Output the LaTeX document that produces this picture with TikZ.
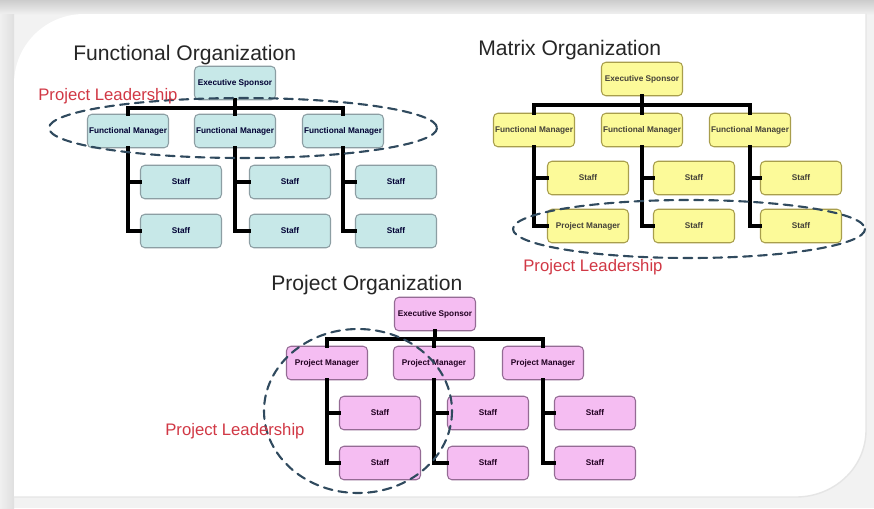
\documentclass[tikz,border=0pt]{standalone}
\usepackage{fontspec}
\setmainfont{Liberation Sans}
\usepackage{tikz}
\usetikzlibrary{arrows}
\definecolor{funcfill}{rgb}{0.78,0.91,0.91}
\definecolor{funcdraw}{rgb}{0.55,0.62,0.64}
\definecolor{matfill}{rgb}{0.99,0.98,0.6}
\definecolor{matdraw}{rgb}{0.66,0.62,0.3}
\definecolor{projfill}{rgb}{0.96,0.74,0.95}
\definecolor{projdraw}{rgb}{0.58,0.42,0.58}
\definecolor{leadred}{rgb}{0.82,0.22,0.27}
\definecolor{ringblue}{rgb}{0.19,0.29,0.37}
\definecolor{framegray}{rgb}{0.95,0.95,0.95}
\tikzset{
  orgbox/.style={rounded corners=2.5pt,line width=0.6pt,minimum width=1.62cm,minimum height=0.67cm,
    inner sep=0pt,font=\bfseries\fontsize{4.7}{5.5}\selectfont},
  funcbox/.style={orgbox,fill=funcfill,draw=funcdraw,text=black!80!blue},
  matbox/.style={orgbox,fill=matfill,draw=matdraw,text=black!85!yellow},
  projbox/.style={orgbox,fill=projfill,draw=projdraw,text=black!75!violet},
  orgline/.style={line width=2.3pt,line join=miter,line cap=rect},
  orgtitle/.style={anchor=west,inner sep=0pt,text=black!85,font=\fontsize{12}{14}\selectfont},
  leadtext/.style={anchor=west,inner sep=0pt,text=leadred,font=\fontsize{9.5}{11}\selectfont},
  leadring/.style={draw=ringblue,line width=1.2pt,dash pattern=on 5pt off 3.5pt}
}
\begin{document}
\begin{tikzpicture}[line cap=round,line join=round,>=triangle 45,x=0.02cm,y=-0.02cm]
\useasboundingbox (0,0) rectangle (874,508);
% frame
\fill[framegray] (0,0) rectangle (874,508);
\shade[top color=gray!40,bottom color=gray!12] (0,0) rectangle (874,14);
\shade[left color=gray!12,right color=gray!25] (0,14) rectangle (14,508);
\fill[white] (14,497) -- (14,84) to[out=90,in=180] (84,14) -- (866,14)
  -- (866,430) to[out=-90,in=0] (796,497) -- cycle;
\draw[gray!20,line width=0.8pt] (14,497) -- (796,497) to[out=0,in=-90] (866,430) -- (866,14);

% functional organization
\node[orgtitle] (ftitle) at (73,55) {Functional Organization};
\node[funcbox] (fes) at (235,83) {Executive Sponsor};
\foreach \i/\x in {1/128,2/235,3/343}
  \node[funcbox] (ffm\i) at (\x,131) {Functional Manager};
\foreach \i/\x in {1/181,2/290,3/396}{
  \node[funcbox] (fs\i1) at (\x,182) {Staff};
  \node[funcbox] (fs\i2) at (\x,231) {Staff};
}
\foreach \i in {1,2,3}{
  \draw[orgline] (fes.south) -- ++(0,8) -| (ffm\i.north);
  \draw[orgline] (ffm\i.south) |- (fs\i1.west);
  \draw[orgline] (ffm\i.south) |- (fs\i2.west);
}
\draw[leadring] (243,128) ellipse [x radius=194,y radius=30];
\node[leadtext] (flead) at (38,96) {Project Leadership};

% matrix organization
\node[orgtitle] (mtitle) at (478,50) {Matrix Organization};
\node[matbox] (mes) at (642,79) {Executive Sponsor};
\foreach \i/\x in {1/534,2/642,3/750}
  \node[matbox] (mfm\i) at (\x,130) {Functional Manager};
\node[matbox] (ms11) at (588,178) {Staff};
\node[matbox] (ms12) at (588,226) {Project Manager};
\foreach \i/\x in {2/694,3/801}{
  \node[matbox] (ms\i1) at (\x,178) {Staff};
  \node[matbox] (ms\i2) at (\x,226) {Staff};
}
\foreach \i in {1,2,3}{
  \draw[orgline] (mes.south) -- ++(0,9) -| (mfm\i.north);
  \draw[orgline] (mfm\i.south) |- (ms\i1.west);
  \draw[orgline] (mfm\i.south) |- (ms\i2.west);
}
\draw[leadring] (689,229) ellipse [x radius=176,y radius=29];
\node[leadtext] (mlead) at (523,267) {Project Leadership};

% project organization
\node[orgtitle] (ptitle) at (271,285) {Project Organization};
\node[projbox] (pes) at (435,314) {Executive Sponsor};
\foreach \i/\x in {1/327,2/434,3/543}
  \node[projbox] (ppm\i) at (\x,363) {Project Manager};
\foreach \i/\x in {1/380,2/488,3/595}{
  \node[projbox] (ps\i1) at (\x,413) {Staff};
  \node[projbox] (ps\i2) at (\x,463) {Staff};
}
\foreach \i in {1,2,3}{
  \draw[orgline] (pes.south) -- ++(0,8) -| (ppm\i.north);
  \draw[orgline] (ppm\i.south) |- (ps\i1.west);
  \draw[orgline] (ppm\i.south) |- (ps\i2.west);
}
\draw[leadring] (358,411) ellipse [x radius=94,y radius=82];
\node[leadtext] (plead) at (165,431) {Project Leadership};
\end{tikzpicture}
\end{document}
